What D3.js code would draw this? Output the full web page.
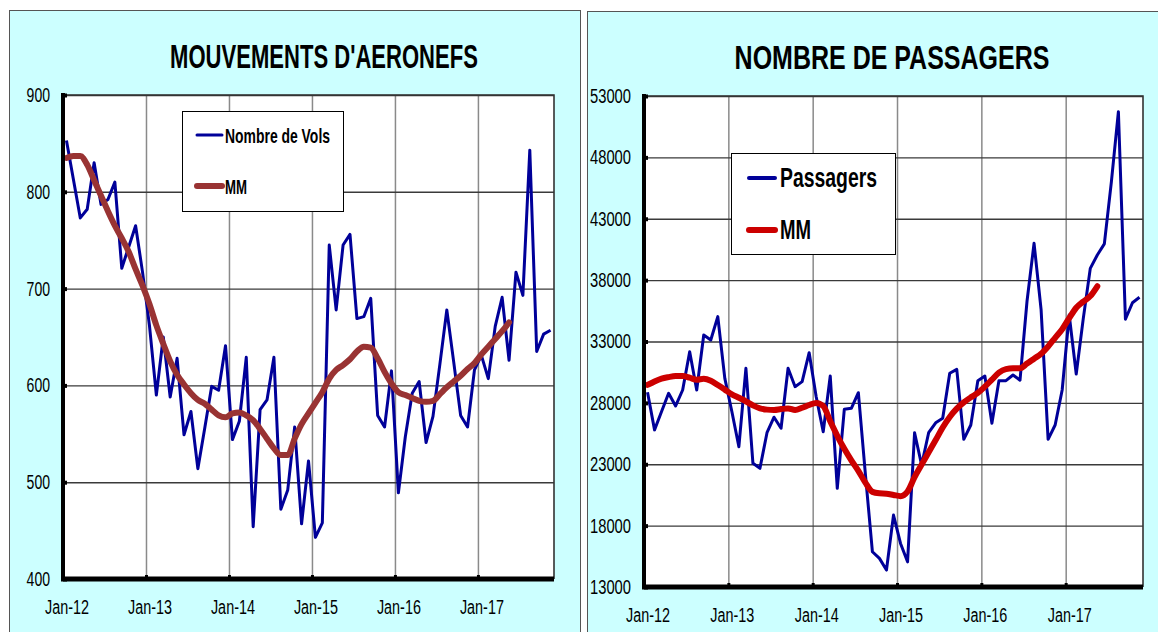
<!DOCTYPE html>
<html><head><meta charset="utf-8">
<script src="https://cdn.jsdelivr.net/npm/d3@7"></script>
<style>body{margin:0;background:#fff;overflow:hidden}</style>
</head><body><svg id="c" width="1158" height="632"></svg>
<script>
// ---------- DATA ----------
const monthCount = 71; // Jan-12 .. Nov-17
const xTickLabels = ["Jan-12","Jan-13","Jan-14","Jan-15","Jan-16","Jan-17"];
const volsYTicks = [400,500,600,700,800,900];
const passYTicks = [13000,18000,23000,28000,33000,38000,43000,48000,53000];

const volsValues = [853,813,773,782,830,787,792,810,721,743,
  765,717,662,590,650,588,628,549,573,514,
  556,599,595,641,544,563,629,454,575,585,
  629,472,492,557,457,522,443,458,745,678,
  745,756,669,671,690,569,557,615,489,547,
  592,604,541,568,622,678,624,569,557,616,
  631,607,661,691,626,717,693,843,635,653,657];
const volsMM = [835,837,837,828,812,796,780,765,752,738,
  720,703,684,662,643,625,611,601,592,585,
  581,575,569,567,571,572,569,564,555,545,
  535,528,528,545,560,571,582,593,607,616,
  621,627,635,640,639,628,614,602,593,590,
  587,584,583,584,591,598,604,610,617,623,
  632,640,648,656,665];

const passValues = [28860,25800,27300,28780,27750,29050,32170,29050,33530,33120,
  35030,30000,27300,24430,30820,23080,22670,25570,26830,25930,
  30820,29320,29730,32090,28500,25650,30190,21040,27480,27560,
  28830,22200,15870,15330,14380,18860,16550,15050,25570,22940,
  25570,26380,26740,30410,30730,25030,26200,29810,30190,26340,
  29810,29810,30270,29850,36300,41000,35600,25030,26200,29050,
  35160,30350,34860,38960,40050,40950,46000,51720,34810,36160,36600];
const passMM = [29460,29750,29980,30100,30180,30190,30050,29880,29960,29800,
  29450,29080,28700,28420,28130,27800,27560,27450,27420,27500,
  27550,27420,27600,27830,28000,27750,26500,25320,24260,23320,
  22460,21500,20750,20630,20600,20500,20400,20780,21950,22970,
  23970,24970,25990,26850,27530,28040,28450,28810,29320,29890,
  30460,30750,30820,30820,31200,31600,32000,32600,33300,34000,
  34900,35750,36250,36700,37500];

// ---------- DRAW ----------
const svg = d3.select("#c");
const FONT = "'Liberation Sans Narrow','Arial Narrow','Liberation Sans',Arial,sans-serif";

function drawChart(cfg){
  const g = svg.append("g");
  g.append("rect").attr("x",cfg.panel[0]+0.5).attr("y",cfg.panel[1]+0.5)
    .attr("width",cfg.panel[2]).attr("height",cfg.panel[3])
    .attr("fill","#ccffff").attr("stroke","#555").attr("stroke-width",1);
  // title: natural text, squeezed horizontally with a transform
  const tg = g.append("g");
  const tt = tg.append("text").attr("x",0).attr("y",0)
    .attr("text-anchor","middle").attr("font-family",FONT).attr("font-weight","bold")
    .attr("font-size",34).attr("fill","#000").text(cfg.title);
  const nat = tt.node().getComputedTextLength() || cfg.titleLen;
  tg.attr("transform",`translate(${cfg.titlePos[0]},${cfg.titlePos[1]}) scale(${cfg.titleLen/nat},1)`);

  const [L,T,R,B] = cfg.plot;
  const x = d3.scaleLinear().domain([-0.5, monthCount-0.5]).range([L,R]);
  const y = d3.scaleLinear().domain(cfg.yDomain).range([B,T]);

  g.append("rect").attr("x",L).attr("y",T).attr("width",R-L).attr("height",B-T).attr("fill","#fff");

  const bounds = xTickLabels.slice(1).map((d,i)=>(i+1)*12-0.5);
  const vg = g.append("g").attr("transform",`translate(0,${B})`)
    .call(d3.axisBottom(x).tickValues(bounds).tickSize(-(B-T)).tickFormat(""));
  vg.select(".domain").remove();
  vg.selectAll("line").attr("stroke","#8a8a8a").attr("stroke-width",1.5);

  const hg = g.append("g").attr("transform",`translate(${L},0)`)
    .call(d3.axisLeft(y).tickValues(cfg.yTicks).tickSize(-(R-L)).tickFormat(""));
  hg.select(".domain").remove();
  hg.selectAll("line").attr("stroke","#3a3a3a").attr("stroke-width",1.4);

  g.append("path").attr("d",`M${L},${T}H${R}V${B}`).attr("fill","none")
    .attr("stroke","#333").attr("stroke-width",1.6);

  const line = d3.line().x((d,i)=>x(i)).y(d=>y(d));
  g.append("path").datum(cfg.values).attr("d",line).attr("fill","none")
    .attr("stroke",cfg.valColor).attr("stroke-width",3).attr("stroke-linejoin","round");
  const mmLine = d3.line().x((d,i)=>x(i)).y(d=>y(d)).curve(d3.curveMonotoneX);
  g.append("path").datum(cfg.mm).attr("d",mmLine).attr("fill","none")
    .attr("stroke",cfg.mmColor).attr("stroke-width",6).attr("stroke-linejoin","round").attr("stroke-linecap","round");

  const ya = g.append("g").attr("transform",`translate(${L},0)`)
    .call(d3.axisLeft(y).tickValues(cfg.yTicks).tickSize(0).tickPadding(13).tickFormat(d3.format("d")));
  ya.select(".domain").remove();
  ya.selectAll("text").attr("font-family",FONT).attr("font-size",20).attr("fill","#000")
    .attr("textLength",d=>String(d).length*cfg.digitW).attr("lengthAdjust","spacingAndGlyphs");
  const yn = g.append("g").attr("transform",`translate(${L},0)`)
    .call(d3.axisRight(y).tickValues(cfg.yTicks).tickSize(4).tickFormat(""));
  yn.select(".domain").remove();
  yn.selectAll("line").attr("stroke","#000").attr("stroke-width",4);

  const xa = g.append("g").attr("transform",`translate(0,${B})`)
    .call(d3.axisBottom(x).tickValues(xTickLabels.map((d,i)=>i*12)).tickSize(0)
      .tickFormat((d,i)=>xTickLabels[i]));
  xa.select(".domain").remove();
  xa.selectAll("text").attr("y",35).attr("dy",0).attr("font-family",FONT).attr("font-size",20)
    .attr("fill","#000").attr("textLength",44).attr("lengthAdjust","spacingAndGlyphs");
  const xn = g.append("g").attr("transform",`translate(0,${B})`)
    .call(d3.axisTop(x).tickValues(bounds).tickSize(4).tickFormat(""));
  xn.select(".domain").remove();
  xn.selectAll("line").attr("stroke","#000").attr("stroke-width",3);

  g.append("line").attr("x1",L).attr("x2",L).attr("y1",T-2).attr("y2",B+2)
    .attr("stroke","#000").attr("stroke-width",4);
  g.append("line").attr("x1",L-2).attr("x2",R).attr("y1",B).attr("y2",B)
    .attr("stroke","#000").attr("stroke-width",5);

  const lg = cfg.legend;
  g.append("rect").attr("x",lg.box[0]+0.5).attr("y",lg.box[1]+0.5)
    .attr("width",lg.box[2]-lg.box[0]).attr("height",lg.box[3]-lg.box[1])
    .attr("fill","#fff").attr("stroke","#000").attr("stroke-width",1);
  lg.items.forEach(it=>{
    g.append("line").attr("x1",lg.lineX[0]).attr("x2",lg.lineX[1]).attr("y1",it.y).attr("y2",it.y)
      .attr("stroke",it.color).attr("stroke-width",it.w).attr("stroke-linecap","round");
    g.append("text").attr("x",lg.textX).attr("y",it.y+lg.baseOff)
      .attr("font-family",FONT).attr("font-weight","bold").attr("font-size",lg.fs)
      .attr("textLength",it.len).attr("lengthAdjust","spacingAndGlyphs").attr("fill","#000")
      .text(it.label);
  });
}

drawChart({
  panel:[9,10,571,640], title:"MOUVEMENTS D'AERONEFS", titlePos:[324,68], titleLen:308,
  plot:[63,95,554,579], yDomain:[400,900], yTicks:volsYTicks, digitW:7.8,
  values:volsValues, mm:volsMM, valColor:"#000099", mmColor:"#993333",
  legend:{box:[182,111,343,211], lineX:[197,222], textX:225, baseOff:7.5, fs:21,
    items:[{label:"Nombre de Vols",y:135,color:"#000099",w:3,len:105},
           {label:"MM",y:186,color:"#993333",w:6,len:22}]}
});
drawChart({
  panel:[587,11,580,640], title:"NOMBRE DE PASSAGERS", titlePos:[892,69], titleLen:315,
  plot:[644,96,1143,587], yDomain:[13000,53000], yTicks:passYTicks, digitW:8.2,
  values:passValues, mm:passMM, valColor:"#000099", mmColor:"#cc0000",
  legend:{box:[731,153,895,254], lineX:[749,775], textX:780, baseOff:9, fs:27,
    items:[{label:"Passagers",y:178,color:"#000099",w:4,len:97},
           {label:"MM",y:230,color:"#cc0000",w:6,len:31}]}
});
</script></body></html>
